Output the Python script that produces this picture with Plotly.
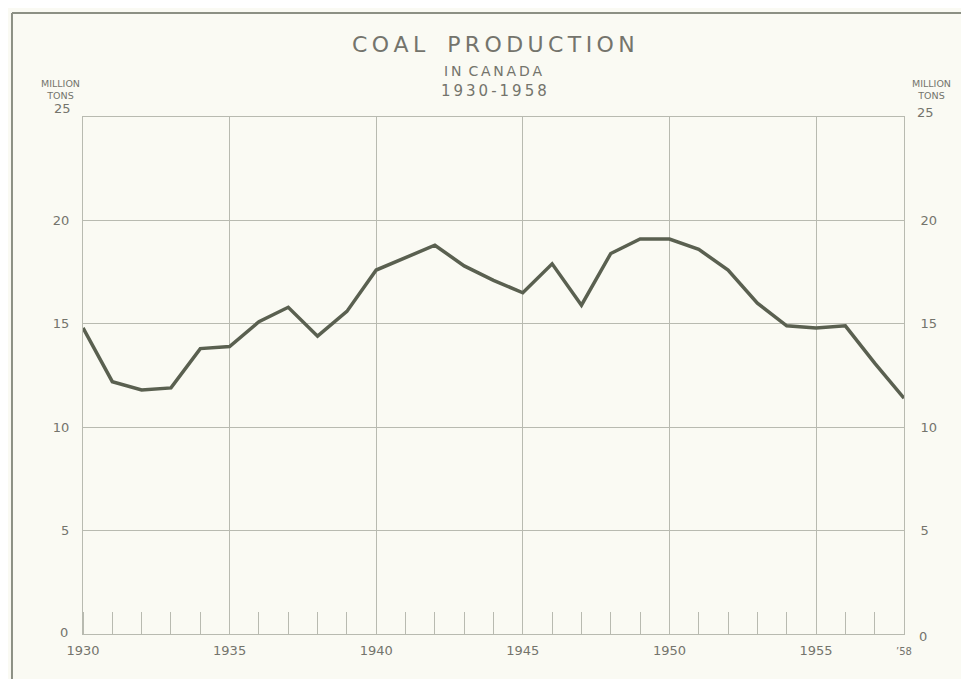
import plotly.graph_objects as go

# coal production in canada, million tons
years = [1930, 1931, 1932, 1933, 1934, 1935, 1936, 1937, 1938, 1939,
         1940, 1941, 1942, 1943, 1944, 1945, 1946, 1947, 1948, 1949,
         1950, 1951, 1952, 1953, 1954, 1955, 1956, 1957, 1958]
production = [14.8, 12.2, 11.8, 11.9, 13.8, 13.9, 15.1, 15.8, 14.4, 15.6,
              17.6, 18.2, 18.8, 17.8, 17.1, 16.5, 17.9, 15.9, 18.4, 19.1,
              19.1, 18.6, 17.6, 16.0, 14.9, 14.8, 14.9, 13.1, 11.4]

x_ticks = [1930, 1935, 1940, 1945, 1950, 1955, 1958]
x_ticktext = ["1930", "1935", "1940", "1945", "1950", "1955",
              "<span style='font-size:10px'>’58</span>"]
y_ticks = [5, 10, 15, 20]

BG = "#fafaf3"
INK = "#74746c"
GRID = "#b8bab0"
LINE = "#5a6050"
FONT = "DejaVu Sans"

# page body has an 8px margin, so the figure is a bit smaller than the window
W, H = 961, 671
PLOT_TOP, PLOT_BOTTOM = 109, 626   # in figure pixels


def spaced(s, sep="\u2009"):
    return sep.join(s)


fig = go.Figure()

fig.add_trace(
    go.Scatter(
        x=years,
        y=production,
        mode="lines",
        line=dict(color=LINE, width=3.5),
        showlegend=False,
        hoverinfo="skip",
    )
)
# invisible trace so the right hand axis is drawn
fig.add_trace(
    go.Scatter(x=[years[0]], y=[production[0]], yaxis="y2",
               mode="markers", marker=dict(opacity=0), showlegend=False,
               hoverinfo="skip")
)

fig.update_layout(
    width=W,
    height=H,
    margin=dict(l=75, r=65, t=PLOT_TOP, b=H - PLOT_BOTTOM),
    paper_bgcolor=BG,
    plot_bgcolor=BG,
    font=dict(family=FONT, color=INK, size=13),
    xaxis=dict(
        range=[1930, 1958],
        tickmode="array",
        tickvals=x_ticks,
        ticktext=x_ticktext,
        showgrid=True,
        gridcolor=GRID,
        gridwidth=1,
        showline=True,
        linecolor=GRID,
        linewidth=1,
        mirror=True,
        ticks="",
        ticklabelstandoff=4,
        tickfont=dict(size=13, color=INK),
        zeroline=False,
        minor=dict(tickmode="linear", tick0=1930, dtick=1, ticks="inside",
                   ticklen=22, tickwidth=1, tickcolor=GRID, showgrid=False),
    ),
    yaxis=dict(
        range=[0, 25],
        tickmode="array",
        tickvals=y_ticks,
        showgrid=True,
        gridcolor=GRID,
        gridwidth=1,
        showline=True,
        linecolor=GRID,
        linewidth=1,
        ticks="",
        ticklabelstandoff=10,
        tickfont=dict(size=13, color=INK),
        zeroline=True,
        zerolinecolor=LINE,
        zerolinewidth=2,
    ),
    yaxis2=dict(
        range=[0, 25],
        overlaying="y",
        side="right",
        tickmode="array",
        tickvals=y_ticks,
        showgrid=False,
        showline=True,
        linecolor=GRID,
        linewidth=1,
        ticks="",
        ticklabelstandoff=13,
        tickfont=dict(size=13, color=INK),
        zeroline=False,
    ),
)

# title block (y given in reference page pixels, converted below)
titles = [
    (spaced("COAL") + "\u2003" + spaced("PRODUCTION"), 44, 22),
    (spaced("IN") + "\u2002" + spaced("CANADA"), 71, 14),
    (spaced("1930-1958"), 91, 15),
]
for text, ypx, size in titles:
    fig.add_annotation(text=text, x=0.5, xanchor="center",
                       y=(PLOT_BOTTOM - (ypx - 8)) / (PLOT_BOTTOM - PLOT_TOP),
                       xref="paper", yref="paper", yanchor="middle",
                       showarrow=False, font=dict(size=size, color=INK))

# unit labels and the 25 labels at both sides
for xp in (-0.027, 1.034):
    fig.add_annotation(text="MILLION<br>TONS", x=xp, xanchor="center",
                       y=25, xref="paper", yref="y", yanchor="bottom",
                       yshift=14, showarrow=False,
                       font=dict(size=9.5, color=INK), align="center")
fig.add_annotation(text="25", x=-0.0245, xanchor="center", y=25,
                   xref="paper", yref="y", yanchor="middle", yshift=9,
                   showarrow=False, font=dict(size=13, color=INK))
fig.add_annotation(text="25", x=1.0256, xanchor="center", y=25,
                   xref="paper", yref="y", yanchor="middle", yshift=5,
                   showarrow=False, font=dict(size=13, color=INK))
fig.add_annotation(text="0", x=-0.016, y=0, xref="paper", yref="y",
                   xanchor="right", yanchor="middle", yshift=2, showarrow=False,
                   font=dict(size=13, color=INK))
fig.add_annotation(text="0", x=1.016, y=0, xref="paper", yref="y",
                   xanchor="left", yanchor="middle", yshift=-2, showarrow=False,
                   font=dict(size=13, color=INK))

# outer frame of the printed figure (top and left edges)
fig.add_shape(type="line", xref="paper", yref="paper",
              x0=-0.0865, x1=1.08, y0=1.201, y1=1.201,
              line=dict(color="#8c9084", width=2))
fig.add_shape(type="line", xref="paper", yref="paper",
              x0=-0.0865, x1=-0.0865, y0=1.201, y1=-0.09,
              line=dict(color="#8c9084", width=2))

fig.write_html("out.html")
